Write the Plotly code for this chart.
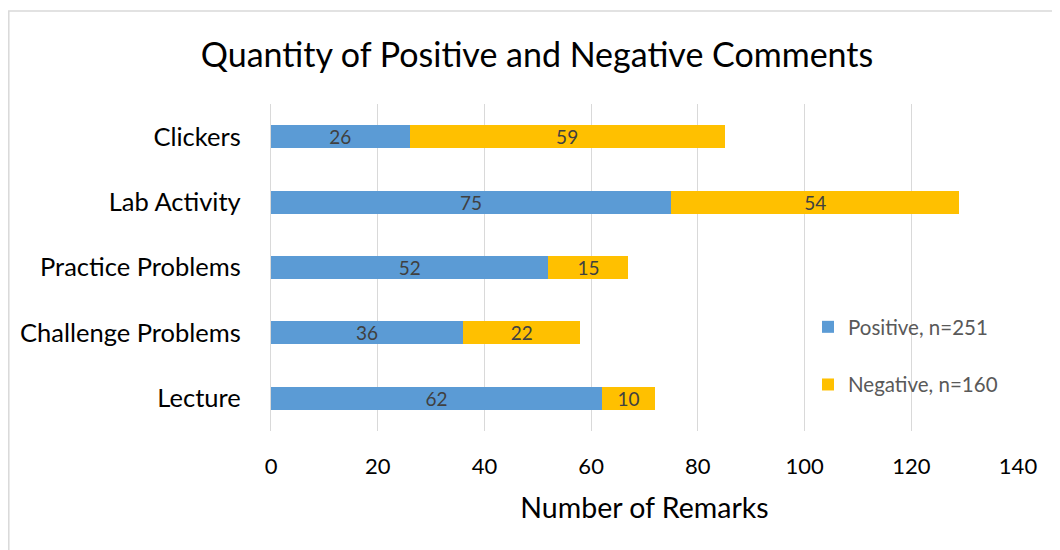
import plotly.graph_objects as go

categories = ["Clickers", "Lab Activity", "Practice Problems", "Challenge Problems", "Lecture"]
positive = [26, 75, 52, 36, 62]
negative = [59, 54, 15, 22, 10]
series_names = ["Positive, n=251", "Negative, n=160"]
x_ticks = [0, 20, 40, 60, 80, 100, 120, 140]

FONT = "Lato, Carlito, Calibri, sans-serif"
# page has an 8px body margin; figure coords = page coords - 8
W, H = 1052, 542
ML, MR, MT, MB = 263, 42, 96, 119
PW, PH = W - ML - MR, H - MT - MB


def px_to_paper_x(px):
    return (px - ML) / PW


def px_to_paper_y(py):
    return (H - MB - py) / PH


fig = go.Figure()
for name, vals, color, grp in [(series_names[0], positive, "#5B9BD5", "p"),
                               (series_names[1], negative, "#FFC000", "n")]:
    fig.add_trace(go.Bar(
        y=categories, x=vals, name=name, orientation="h",
        marker=dict(color=color, line=dict(width=0)),
        text=vals, textposition="inside", insidetextanchor="middle",
        textangle=0, constraintext="none",
        textfont=dict(family=FONT, size=19, color="#404040"),
        legendgroup=grp,
    ))

fig.add_shape(type="rect", xref="paper", yref="paper",
              x0=px_to_paper_x(0.8), x1=px_to_paper_x(1060),
              y0=px_to_paper_y(560), y1=px_to_paper_y(3),
              line=dict(color="#D9D9D9", width=1.5), fillcolor="rgba(0,0,0,0)",
              layer="below")

fig.update_layout(
    width=W, height=H,
    margin=dict(l=ML, r=MR, t=MT, b=MB, pad=0),
    barmode="stack", bargap=0.65,
    paper_bgcolor="white", plot_bgcolor="white",
    title=dict(text="Quantity of Positive and Negative Comments",
               font=dict(family=FONT, size=34, color="#000000"),
               x=529 / W, xanchor="center", xref="container", y=1 - 47 / H, yanchor="middle"),
    font=dict(family=FONT),
    showlegend=True,
    legend=dict(x=px_to_paper_x(800), y=px_to_paper_y(299), xanchor="left", yanchor="top",
                bgcolor="rgba(0,0,0,0)", tracegroupgap=28, traceorder="grouped",
                font=dict(family=FONT, size=20.5, color="#595959"),
                itemwidth=30),
    xaxis=dict(range=[0, 140], tickvals=x_ticks, showgrid=True, gridcolor="#D9D9D9",
               gridwidth=1.3, zeroline=False, showline=False,
               tickfont=dict(family=FONT, size=22, color="#000000"), ticks="",
               ticklabelstandoff=20,
               title=dict(text="Number of Remarks", standoff=20,
                          font=dict(family=FONT, size=28.5, color="#000000"))),
    yaxis=dict(categoryorder="array", categoryarray=categories, autorange="reversed",
               showgrid=False, showline=True, linecolor="#D9D9D9", linewidth=1.3,
               ticks="", ticklabelstandoff=24,
               tickfont=dict(family=FONT, size=25.5, color="#000000")),
)

fig.write_html("out.html")
